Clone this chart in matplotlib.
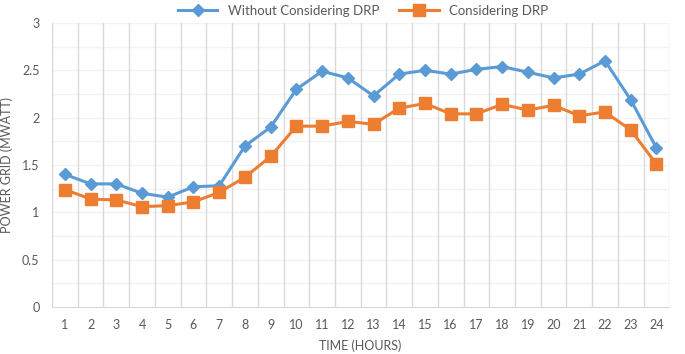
import numpy as np
import matplotlib.pyplot as plt

plt.rcParams['font.family'] = ['Lato', 'DejaVu Sans']

hours = list(range(1, 25))
without_drp = [1.40, 1.30, 1.30, 1.20, 1.16, 1.27, 1.28, 1.70, 1.90, 2.30, 2.49, 2.42,
               2.23, 2.46, 2.50, 2.46, 2.51, 2.54, 2.48, 2.42, 2.46, 2.60, 2.19, 1.68]
with_drp = [1.24, 1.14, 1.13, 1.06, 1.07, 1.11, 1.21, 1.37, 1.59, 1.91, 1.91, 1.96,
            1.93, 2.10, 2.15, 2.04, 2.04, 2.14, 2.08, 2.13, 2.02, 2.06, 1.87, 1.51]

blue = '#5B9BD5'
orange = '#ED7D31'
txt = '#595959'

fig = plt.figure(figsize=(6.85, 3.54), dpi=100)
ax = fig.add_axes([0.076, 0.133, 0.901, 0.802])

ax.plot(hours, without_drp, color=blue, lw=2.2, marker='D', ms=6,
        label='Without Considering DRP', zorder=3)
ax.plot(hours, with_drp, color=orange, lw=2.2, marker='s', ms=8,
        label='Considering DRP', zorder=3)

ax.set_xlim(0.5, 24.5)
ax.set_ylim(0, 3)
ax.set_xticks(hours)
ax.set_yticks(np.arange(0, 3.01, 0.5))
ax.set_yticklabels(['0', '0.5', '1', '1.5', '2', '2.5', '3'])

# light horizontal grid, darker vertical category separators
for y in np.arange(0.25, 3.01, 0.25):
    ax.axhline(y, color='#F2F2F2', lw=1, zorder=0)
for x in np.arange(0.5, 24.6, 1):
    ax.axvline(x, color='#D9D9D9', lw=1, zorder=1)

for s in ['top', 'right', 'left']:
    ax.spines[s].set_visible(False)
ax.spines['bottom'].set_color('#D9D9D9')
ax.tick_params(length=0, labelsize=9, colors=txt)
ax.tick_params(axis='x', pad=9)
ax.tick_params(axis='y', pad=9)

ax.set_xlabel('TIME (HOURS)', fontsize=9, color=txt, labelpad=6)
ax.set_ylabel('POWER GRID (MWATT)', fontsize=9, color=txt)
ax.yaxis.set_label_coords(-0.063, 0.5)

fig.legend(loc='upper center', bbox_to_anchor=(0.53, 1.02), ncol=2, frameon=False,
           fontsize=9.5, labelcolor=txt, handlelength=3, columnspacing=1.5)

fig.savefig('out.png', dpi=100)
